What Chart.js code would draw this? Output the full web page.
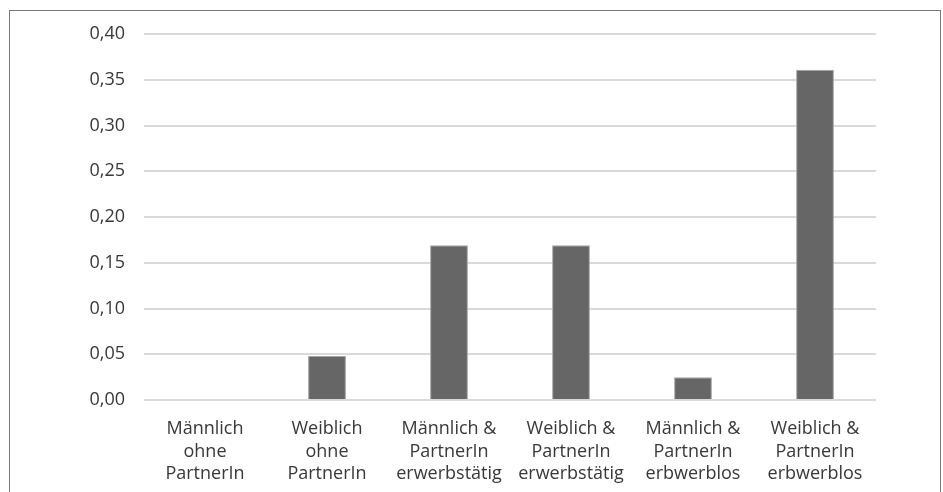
<!DOCTYPE html>
<html>
<head>
<meta charset="utf-8">
<script src="https://cdn.jsdelivr.net/npm/chart.js@4/dist/chart.umd.min.js"></script>
<style>
  html, body { margin: 0; padding: 0; background: #fff; overflow: hidden; }
  #frame { position: absolute; left: 9px; top: 10px; width: 930px; height: 520px; border: 1px solid #7a7a7a; }
  #wrap { position: absolute; left: 0; top: 0; width: 943px; height: 492px; }
</style>
</head>
<body>
<div id="frame"></div>
<div id="wrap"><canvas id="chart" width="943" height="492"></canvas></div>
<script>
// Kategorien (mehrzeilig) und Werte
const categories = [
  ["Männlich", "ohne", "PartnerIn"],
  ["Weiblich", "ohne", "PartnerIn"],
  ["Männlich &", "PartnerIn", "erwerbstätig"],
  ["Weiblich &", "PartnerIn", "erwerbstätig"],
  ["Männlich &", "PartnerIn", "erbwerblos"],
  ["Weiblich &", "PartnerIn", "erbwerblos"]
];
const values = [0.0, 0.048, 0.169, 0.169, 0.025, 0.361];
const yTicks = [0, 0.05, 0.10, 0.15, 0.20, 0.25, 0.30, 0.35, 0.40];

const fmt = v => v.toFixed(2).replace(".", ",");

new Chart(document.getElementById("chart"), {
  type: "bar",
  data: {
    labels: categories,
    datasets: [{
      data: values,
      backgroundColor: "#666666",
      borderColor: "#a6a6a6",
      borderWidth: 1,
      categoryPercentage: 1,
      barPercentage: 0.31
    }]
  },
  options: {
    responsive: false,
    animation: false,
    devicePixelRatio: 1,
    layout: { padding: { top: 34, right: 67, bottom: 0, left: 0 } },
    plugins: { legend: { display: false }, tooltip: { enabled: false } },
    scales: {
      x: {
        grid: { display: false, drawTicks: false },
        border: { display: false },
        ticks: {
          color: "#383838",
          font: { family: "Open Sans", size: 18, lineHeight: 1.25 },
          padding: 18,
          maxRotation: 0,
          autoSkip: false
        },
        afterFit: s => { s.height = 92; }
      },
      y: {
        min: 0,
        max: 0.4,
        afterBuildTicks: s => { s.ticks = yTicks.map(v => ({ value: v })); },
        grid: { color: "#d9d9d9", lineWidth: 2, drawTicks: false },
        border: { display: false },
        ticks: {
          color: "#383838",
          font: { family: "Open Sans", size: 18 },
          padding: 19,
          callback: v => fmt(v)
        },
        afterFit: s => { s.width = 144; }
      }
    }
  }
});
</script>
</body>
</html>
